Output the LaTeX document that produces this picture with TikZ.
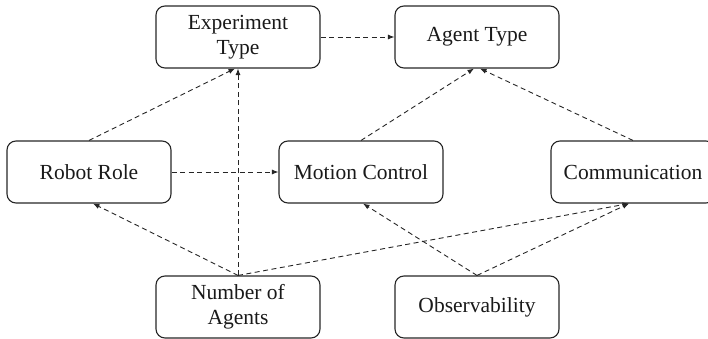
\documentclass[tikz,border=0pt]{standalone}
\usepackage{fontspec}
\setmainfont{Liberation Serif}
\usetikzlibrary{arrows.meta,calc}
\begin{document}
\begin{tikzpicture}[x=1pt,y=-1pt,
  box/.style={draw=black!85,line width=1.1pt,rounded corners=9pt,minimum width=164pt,minimum height=62pt,
    align=center,inner sep=0pt,text=black!90,font=\fontsize{21.5}{25}\selectfont},
  link/.style={draw=black!85,line width=0.9pt,dash pattern=on 5pt off 3.5pt,
    -{Latex[length=6.5pt,width=5pt]}}]
\useasboundingbox (0,0) rectangle (708,339);
\node[box] (exp) at (238,37) {Experiment\\Type};
\node[box] (agent) at (477,37) {Agent Type};
\node[box] (robot) at (89,172) {Robot Role};
\node[box] (motion) at (361,172) {Motion Control};
\node[box] (comm) at (633,172) {Communication};
\node[box] (num) at (238,307) {Number of\\Agents};
\node[box] (obs) at (477,307) {Observability};
\draw[link] (exp.east) -- (agent.west);
\draw[link] (robot.north) -- ($(exp.south)+(-3,0)$);
\draw[link] (num.north) -- (exp.south);
\draw[link] (robot.east) -- (motion.west);
\draw[link] (motion.north) -- ($(agent.south)+(-3,0)$);
\draw[link] (comm.north) -- ($(agent.south)+(3,0)$);
\draw[link] (num.north) -- ($(robot.south)+(4,0)$);
\draw[link] (num.north) -- ($(comm.south)+(-4,0)$);
\draw[link] (obs.north) -- ($(motion.south)+(2,0)$);
\draw[link] (obs.north) -- ($(comm.south)+(-4,0)$);
\end{tikzpicture}
\end{document}
